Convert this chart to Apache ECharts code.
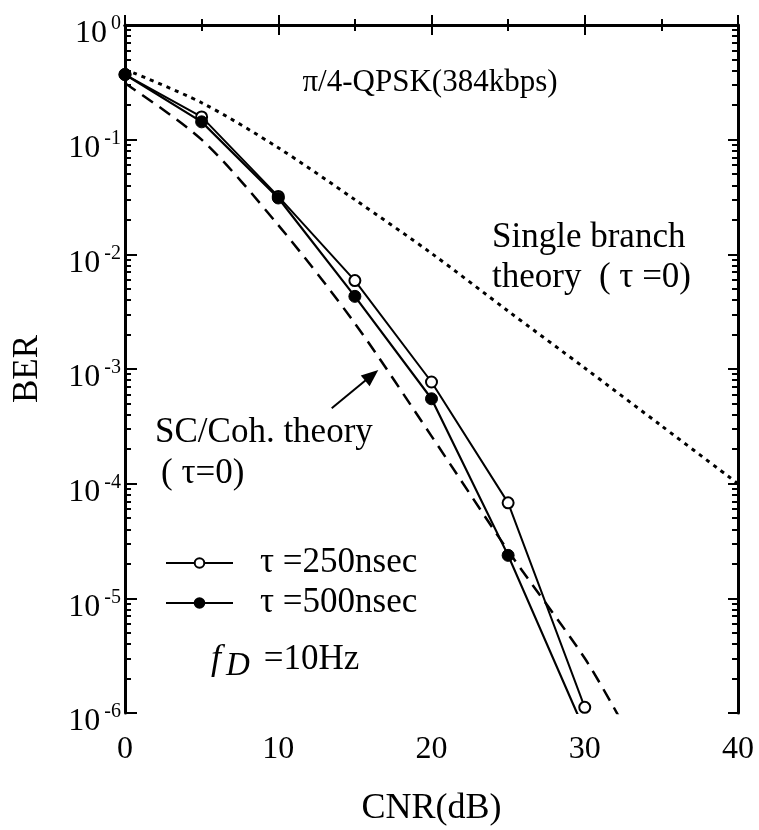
<!DOCTYPE html>
<html><head><meta charset="utf-8">
<script src="https://cdn.jsdelivr.net/npm/echarts@6/dist/echarts.min.js"></script>
<style>html,body{margin:0;padding:0;background:#fff}#c{width:759px;height:830px}</style>
</head><body><div id="c"></div>
<script>
// ---- data ----
const cnr = [0, 5, 10, 15, 20, 25, 30];
const ber250 = [0.37, 0.158, 0.032, 0.0059, 0.00077, 0.000068, 0.00000112];
const ber500 = [0.37, 0.143, 0.031, 0.0043, 0.00055, 0.0000237, 0.0000007];
const singleCnr = [0, 5, 10, 15, 20, 25, 30, 35, 40];
const singleBer = [0.41, 0.21, 0.085, 0.030, 0.0102, 0.0032, 0.00102, 0.00032, 0.0001];
const scCnr = [0, 5, 10, 15, 20, 25, 30, 32.5];
const scBer = [0.31, 0.1, 0.018, 0.0025, 0.00026, 0.000026, 0.000003, 0.0000008];
const xTickLabels = [0, 10, 20, 30, 40];
const yDecadeExps = [-6, -5, -4, -3, -2, -1, 0];
const seriesNames = ['τ =250nsec', 'τ =500nsec', 'Single branch theory', 'SC/Coh. theory'];

const FONT = '"Liberation Serif", "Times New Roman", serif';
const minorLog = [];
yDecadeExps.slice(0, -1).forEach(n => { for (let k = 2; k <= 9; k++) minorLog.push(n + Math.log10(k)); });

const chart = echarts.init(document.getElementById('c'), null, {renderer: 'canvas'});
const black = '#000';
const frameLine = {show: true, lineStyle: {color: black, width: 3}};

const option = {
  backgroundColor: '#fff',
  animation: false,
  grid: {left: 125, right: 21, top: 25, bottom: 117, containLabel: false, outerBoundsMode: 'none'},
  xAxis: [
    {type: 'value', position: 'bottom', min: 0, max: 40, interval: 10,
     axisLine: frameLine,
     axisTick: {show: true, inside: true, length: 10, lineStyle: {color: black, width: 2}},
     minorTick: {show: true, splitNumber: 2, length: 6, lineStyle: {color: black, width: 2}},
     splitLine: {show: false},
     axisLabel: {show: true, margin: 21, fontFamily: FONT, fontSize: 32, color: black,
       customValues: xTickLabels},
     name: 'CNR(dB)', nameLocation: 'middle', nameGap: 78,
     nameTextStyle: {fontFamily: FONT, fontSize: 36, color: black}},
    {type: 'value', position: 'top', min: 0, max: 40, interval: 10,
     axisLine: frameLine,
     axisTick: {show: true, inside: true, length: 10, lineStyle: {color: black, width: 2}},
     minorTick: {show: true, splitNumber: 2, length: 6, lineStyle: {color: black, width: 2}},
     splitLine: {show: false}, axisLabel: {show: false}}
  ],
  yAxis: [
    {type: 'log', position: 'left', min: 1e-6, max: 1, logBase: 10, interval: 1,
     axisLine: frameLine,
     axisTick: {show: true, inside: true, length: 12, lineStyle: {color: black, width: 2}},
     splitLine: {show: false},
     axisLabel: {show: true, margin: 4, color: black,
       formatter: v => { const e = Math.round(Math.log10(v)); return '{b|10}{s|' + (e === 0 ? '0' : '-' + (-e)) + '}'; },
       rich: {
         b: {fontFamily: FONT, fontSize: 32, lineHeight: 32, padding: [18, 0, 0, 0], color: black},
         s: {fontFamily: FONT, fontSize: 20, lineHeight: 20, padding: [0, 0, 2, 4], color: black}
       }},
     name: 'BER', nameLocation: 'middle', nameGap: 80, nameRotate: 90,
     nameTextStyle: {fontFamily: FONT, fontSize: 35, color: black}},
    {type: 'value', position: 'left', min: -6, max: 0,
     axisLine: {show: false},
     axisTick: {show: true, inside: true, length: 6, lineStyle: {color: black, width: 2}, customValues: minorLog},
     splitLine: {show: false}, axisLabel: {show: false}},
    {type: 'log', position: 'right', min: 1e-6, max: 1, logBase: 10, interval: 1,
     axisLine: frameLine,
     axisTick: {show: true, inside: true, length: 10, lineStyle: {color: black, width: 2}},
     splitLine: {show: false}, axisLabel: {show: false}},
    {type: 'value', position: 'right', min: -6, max: 0,
     axisLine: {show: false},
     axisTick: {show: true, inside: true, length: 6, lineStyle: {color: black, width: 2}, customValues: minorLog},
     splitLine: {show: false}, axisLabel: {show: false}}
  ],
  legend: {
    data: [seriesNames[0], seriesNames[1]],
    orient: 'vertical', left: 160, top: 538, itemWidth: 67, itemHeight: 12, itemGap: 0,
    selectedMode: false,
    textStyle: {fontFamily: FONT, fontSize: 35, color: black, lineHeight: 30, padding: [10, 0, 0, 22]}
  },
  series: [
    {name: seriesNames[2], type: 'line', xAxisIndex: 0, yAxisIndex: 0, symbol: 'none', smooth: 0.3,
     clip: true, lineStyle: {color: black, width: 3, type: [4, 5]},
     data: singleCnr.map((x, i) => [x, singleBer[i]])},
    {name: seriesNames[3], type: 'line', xAxisIndex: 0, yAxisIndex: 0, symbol: 'none', smooth: 0.3,
     clip: true, lineStyle: {color: black, width: 2.5, type: [13, 8]},
     data: scCnr.map((x, i) => [x, scBer[i]])},
    {name: seriesNames[0], type: 'line', xAxisIndex: 0, yAxisIndex: 0, symbol: 'circle', symbolSize: 11,
     clip: true, lineStyle: {color: black, width: 2},
     itemStyle: {color: '#fff', borderColor: black, borderWidth: 2},
     data: cnr.map((x, i) => [x, ber250[i]])},
    {name: seriesNames[1], type: 'line', xAxisIndex: 0, yAxisIndex: 0, symbol: 'circle', symbolSize: 12,
     clip: true, lineStyle: {color: black, width: 2.2},
     itemStyle: {color: black, borderColor: black, borderWidth: 1},
     data: cnr.map((x, i) => (ber500[i] < 1e-6 ? {value: [x, ber500[i]], symbol: 'none'} : [x, ber500[i]]))}
  ],
  graphic: [
    {type: 'text', x: 430, y: 83, style: {text: 'π/4-QPSK(384kbps)', font: '31px ' + FONT, fill: black, align: 'center', verticalAlign: 'middle'}},
    {type: 'text', x: 492, y: 238, style: {text: 'Single branch', font: '35px ' + FONT, fill: black, align: 'left', verticalAlign: 'middle'}},
    {type: 'text', x: 492, y: 278, style: {text: 'theory  ( τ =0)', font: '35px ' + FONT, fill: black, align: 'left', verticalAlign: 'middle'}},
    {type: 'text', x: 155, y: 433, style: {text: 'SC/Coh. theory', font: '35px ' + FONT, fill: black, align: 'left', verticalAlign: 'middle'}},
    {type: 'text', x: 161, y: 474, style: {text: '( τ=0)', font: '35px ' + FONT, fill: black, align: 'left', verticalAlign: 'middle'}},
    {type: 'text', x: 211, y: 660, style: {
      text: '{i|f}{d|D}{n|=10Hz}', verticalAlign: 'middle', align: 'left',
      rich: {
        i: {font: 'italic 36px ' + FONT, fill: black},
        d: {font: 'italic 33px ' + FONT, fill: black, padding: [12, 14, 0, 5]},
        n: {font: '35px ' + FONT, fill: black}
      }}},
    {type: 'line', shape: {x1: 331.7, y1: 408.3, x2: 366, y2: 380}, style: {stroke: black, lineWidth: 2}},
    {type: 'polygon', shape: {points: [[378.3, 370], [369.6, 386.2], [360.8, 375.4]]}, style: {fill: black}}
  ]
};
chart.setOption(option);
</script>
</body></html>
